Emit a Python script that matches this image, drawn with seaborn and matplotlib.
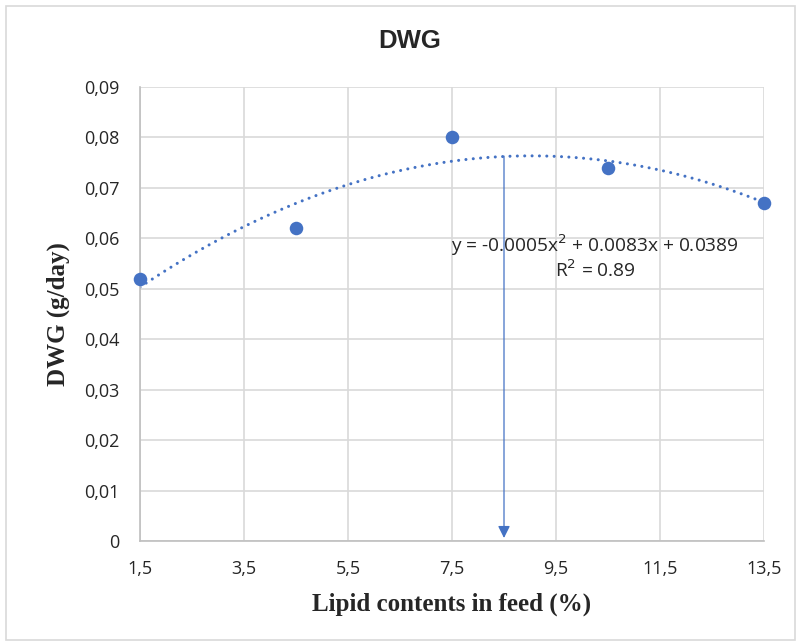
import numpy as np
import pandas as pd
import matplotlib
matplotlib.use("Agg")
import matplotlib.pyplot as plt
from matplotlib.ticker import FuncFormatter, FixedLocator
from matplotlib.patches import Rectangle
import seaborn as sns

# ---- data ----
lipid = [1.5, 4.5, 7.5, 10.5, 13.5]
dwg = [0.052, 0.062, 0.080, 0.074, 0.067]
x_ticks = [1.5, 3.5, 5.5, 7.5, 9.5, 11.5, 13.5]
y_ticks = [0, 0.01, 0.02, 0.03, 0.04, 0.05, 0.06, 0.07, 0.08, 0.09]
opt_x = 8.5
opt_top = 0.0763
eq_text = "y = -0.0005x$^{2}$ + 0.0083x + 0.0389"
r2_text = "R$^{2}$ = 0.89"
title = "DWG"
x_label = "Lipid contents in feed (%)"
y_label = "DWG (g/day)"

df = pd.DataFrame({"lipid": lipid, "dwg": dwg})

sns.set_style("white")
plt.rcParams["font.family"] = ["Open Sans", "DejaVu Sans"]

blue = "#4472C4"
fig = plt.figure(figsize=(8.01, 6.44), dpi=100)
ax = fig.add_axes([140/801, 1-541/644, (764-140)/801, (541-87)/644])

# figure outer border
fig.patches.append(Rectangle((6/801, 4/644), 789/801, 634/644, transform=fig.transFigure,
                             fill=False, edgecolor="#d9d9d9", lw=1.2))

sns.regplot(data=df, x="lipid", y="dwg", order=2, ci=None, scatter=False, ax=ax,
            line_kws=dict(color=blue, lw=2.2, ls=(0, (0.01, 2.4)), dash_capstyle="round"))
sns.scatterplot(data=df, x="lipid", y="dwg", ax=ax, s=95, color=blue, edgecolor=blue,
                linewidth=0, zorder=5, clip_on=False)

ax.annotate("", xy=(opt_x, 0.0006), xytext=(opt_x, opt_top),
            arrowprops=dict(arrowstyle="-|>", color=blue, lw=0.9, mutation_scale=18,
                            shrinkA=0, shrinkB=0))

ax.set_xlim(1.5, 13.5)
ax.set_ylim(0, 0.09)
ax.xaxis.set_major_locator(FixedLocator(x_ticks))
ax.yaxis.set_major_locator(FixedLocator(y_ticks))
ax.xaxis.set_major_formatter(FuncFormatter(lambda v, p: f"{v:.1f}".replace(".", ",")))
ax.yaxis.set_major_formatter(FuncFormatter(lambda v, p: "0" if abs(v) < 1e-9 else f"{v:.2f}".replace(".", ",")))
ax.grid(True, color="#d9d9d9", lw=1.2)
ax.set_axisbelow(True)
for s in ["top", "right"]:
    ax.spines[s].set_visible(False)
for s in ["left", "bottom"]:
    ax.spines[s].set_color("#bfbfbf")
    ax.spines[s].set_linewidth(1.2)
ax.tick_params(axis="both", length=0, labelsize=13, labelcolor="#262626")
ax.tick_params(axis="y", pad=15)
ax.tick_params(axis="x", pad=14)

ax.set_xlabel(x_label, fontfamily="Liberation Serif", fontweight="bold", fontsize=18, labelpad=10)
ax.set_ylabel(y_label, fontfamily="Liberation Serif", fontweight="bold", fontsize=18, labelpad=10)
fig.text(410/801, 1-41/644, title, ha="center", va="center", fontfamily="Liberation Sans",
         fontweight="bold", fontsize=18.5)

ax.text(10.25, 0.0586, eq_text, ha="center", va="center", fontsize=13.8, color="#262626")
ax.text(10.25, 0.0537, r2_text, ha="center", va="center", fontsize=13.8, color="#262626")

fig.savefig("out.png", dpi=100)
